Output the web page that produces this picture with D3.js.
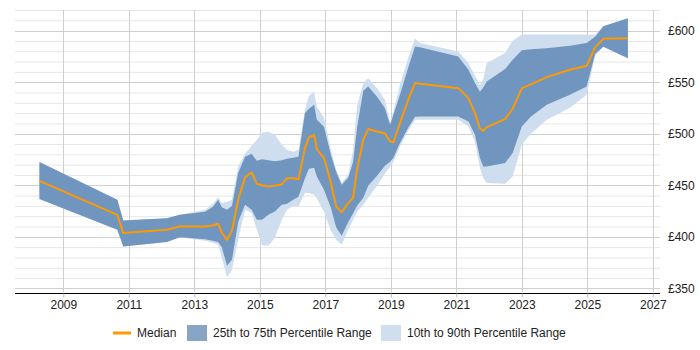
<!DOCTYPE html>
<html><head><meta charset="utf-8">
<script src="https://cdn.jsdelivr.net/npm/d3@7"></script>
<style>
body{margin:0;background:#fff;}
text{font-family:"Liberation Sans",Arial,sans-serif;}
</style>
</head><body>
<svg id="chart" width="700" height="350"></svg>
<script>
const years = [2008.27,2010.65,2010.83,2012.16,2012.56,2013.33,2013.57,2013.73,2013.84,2014.00,
  2014.15,2014.34,2014.55,2014.75,2014.91,2015.07,2015.26,2015.46,2015.67,2015.83,
  2016.02,2016.18,2016.38,2016.50,2016.66,2016.74,2016.96,2017.17,2017.33,2017.50,
  2017.70,2017.85,2017.97,2018.16,2018.31,2018.58,2018.82,2018.98,2019.08,2019.28,
  2019.53,2019.74,2019.89,2021.06,2021.37,2021.57,2021.72,2021.82,2021.93,2022.49,
  2022.72,2023.00,2023.28,2023.76,2024.47,2024.98,2025.24,2025.49,2026.24];
const p90 = [472.5,435.9,415.8,418.1,421.3,426.2,432.0,438.5,432.7,433.9,
  435.9,468.2,480.5,488.3,494.1,500.9,501.8,498.9,489.2,484.4,
  482.4,484.4,523.2,536.8,540.6,526.4,515.4,484.4,465.0,452.4,
  460.1,484.4,527.1,549.1,553.9,544.0,532.9,510.6,521.2,547.4,
  573.6,592.7,587.9,579.7,568.5,556.2,547.4,552.3,568.5,578.2,
  590.1,596.2,596.2,596.2,596.2,596.2,595.9,604.2,612.1];
const p75 = [472.5,435.9,415.8,418.1,421.3,424.2,429.1,435.9,428.8,426.2,
  430.1,461.8,477.6,480.5,473.7,475.2,474.2,473.2,474.2,475.7,
  476.6,477.6,520.0,524.2,528.0,513.5,506.7,479.5,463.0,450.4,
  457.2,472.7,505.7,541.6,545.8,535.8,524.8,508.6,518.3,537.7,
  563.9,584.6,583.8,574.9,562.0,549.1,540.6,544.5,550.6,562.7,
  571.7,580.9,581.9,582.8,585.3,587.9,594.0,604.2,612.1];
const median = [454.3,421.3,403.6,406.8,410.0,410.0,411.2,412.6,404.2,397.1,
  406.1,435.9,457.9,462.4,451.4,450.0,448.8,449.5,450.9,456.7,
  456.9,455.8,486.3,496.5,498.9,485.1,476.6,452.4,429.6,423.8,
  432.7,437.8,465.0,494.1,504.5,502.1,500.4,492.4,491.7,510.3,
  532.9,549.1,548.4,544.2,534.5,520.0,505.4,502.8,506.4,514.2,
  524.2,544.0,547.9,554.9,562.0,565.9,583.8,592.0,592.5];
const p25 = [436.6,406.8,390.6,395.1,399.7,397.6,396.1,395.1,389.8,371.9,
  377.7,414.5,431.0,426.2,416.5,416.5,421.3,424.5,431.0,432.0,
  435.9,438.8,456.9,466.0,466.9,458.5,445.6,428.1,409.2,401.0,
  414.5,422.8,430.1,437.8,449.5,459.2,468.9,472.7,476.6,490.9,
  505.7,516.4,516.7,516.7,511.8,498.9,476.6,468.2,468.2,471.5,
  481.2,507.0,516.7,528.0,537.7,545.8,577.5,584.3,573.3];
const p10 = [436.6,406.8,390.6,395.1,399.7,396.1,394.2,392.2,379.6,360.9,
  368.0,397.1,426.2,423.3,406.8,391.8,391.3,399.0,416.5,426.2,
  430.1,429.4,442.4,442.4,440.7,437.5,424.2,405.8,397.1,392.2,
  406.8,416.5,424.2,431.0,437.8,449.5,461.1,467.9,472.7,487.6,
  502.8,513.5,513.5,513.5,507.0,492.1,466.9,457.2,452.1,451.4,
  458.5,489.2,499.9,513.5,525.1,537.7,575.6,584.3,573.3];

const xTicks = [2009,2011,2013,2015,2017,2019,2021,2023,2025,2027];
const yTicks = [350,400,450,500,550,600];
const yMinor = d3.range(350, 621, 10);
const legendItems = ["Median","25th to 75th Percentile Range","10th to 90th Percentile Range"];

const svg = d3.select("#chart");
const L = 15, R = 660, T = 10, B = 292.5;
const x = d3.scaleLinear().domain([2007.525, 2027.22]).range([L, R]);
const y = d3.scaleLinear().domain([346, 620]).range([B, T]);

// grid
const g = svg.append("g");
g.selectAll("line.minor").data(yMinor.filter(v => v % 50 !== 0)).join("line")
  .attr("x1", L).attr("x2", R).attr("y1", d => y(d)+0.5).attr("y2", d => y(d)+0.5)
  .attr("stroke", "#e6e6e6").attr("stroke-width", 1);
g.selectAll("line.major").data(yTicks).join("line")
  .attr("x1", L).attr("x2", R).attr("y1", d => Math.round(y(d))+0.5).attr("y2", d => Math.round(y(d))+0.5)
  .attr("stroke", "#cfcfcf").attr("stroke-width", 1);
g.selectAll("line.vgrid").data(xTicks).join("line")
  .attr("x1", d => Math.round(x(d))+0.5).attr("x2", d => Math.round(x(d))+0.5)
  .attr("y1", T).attr("y2", B)
  .attr("stroke", "#cfcfcf").attr("stroke-width", 1);

const data = years.map((t,i) => ({t, p90:p90[i], p75:p75[i], m:median[i], p25:p25[i], p10:p10[i]}));

svg.append("path").datum(data)
  .attr("d", d3.area().x(d => x(d.t)).y0(d => y(d.p10)).y1(d => y(d.p90)))
  .attr("fill", "#cfdeee");
svg.append("path").datum(data)
  .attr("d", d3.area().x(d => x(d.t)).y0(d => y(d.p25)).y1(d => y(d.p75)))
  .attr("fill", "#7095be");
svg.append("path").datum(data)
  .attr("d", d3.line().x(d => x(d.t)).y(d => y(d.m)))
  .attr("fill", "none").attr("stroke", "#ff9900").attr("stroke-width", 2).attr("stroke-linejoin","round");

// x axis
const xa = svg.append("g").attr("transform", `translate(0,${Math.round(B)+0.5})`)
  .call(d3.axisBottom(x).tickValues(xTicks).tickFormat(d3.format("d")).tickSize(4).tickSizeOuter(0));
xa.select(".domain").attr("stroke", "#000").attr("d", `M${L},0H${R}`);
xa.selectAll(".tick line").attr("stroke", "#bbb");
xa.selectAll("text").attr("font-size", 12).attr("fill", "#222").attr("font-family", '"Liberation Sans",Arial,sans-serif');

// y axis labels (right)
const ya = svg.append("g").attr("transform", `translate(${R},0)`)
  .call(d3.axisRight(y).tickValues(yTicks).tickFormat(d => "£" + d).tickSize(0).tickPadding(8));
ya.select(".domain").remove();
ya.selectAll("text").attr("font-size", 12).attr("fill", "#222").attr("font-family", '"Liberation Sans",Arial,sans-serif');

// legend
const ly = 333;
const lg = svg.append("g");
lg.append("line").attr("x1", 113).attr("x2", 131).attr("y1", ly).attr("y2", ly)
  .attr("stroke", "#ff9900").attr("stroke-width", 3);
lg.append("text").attr("x", 137).attr("y", ly).attr("dy", "0.35em").attr("font-size", 12).attr("fill", "#222").text(legendItems[0]);
lg.append("rect").attr("x", 187).attr("y", ly-8).attr("width", 20).attr("height", 16).attr("fill", "#88a5c6");
lg.append("text").attr("x", 213).attr("y", ly).attr("dy", "0.35em").attr("font-size", 12).attr("fill", "#222").text(legendItems[1]);
lg.append("rect").attr("x", 381).attr("y", ly-8).attr("width", 20).attr("height", 16).attr("fill", "#d0dfee");
lg.append("text").attr("x", 407).attr("y", ly).attr("dy", "0.35em").attr("font-size", 12).attr("fill", "#222").text(legendItems[2]);
</script>
</body></html>
